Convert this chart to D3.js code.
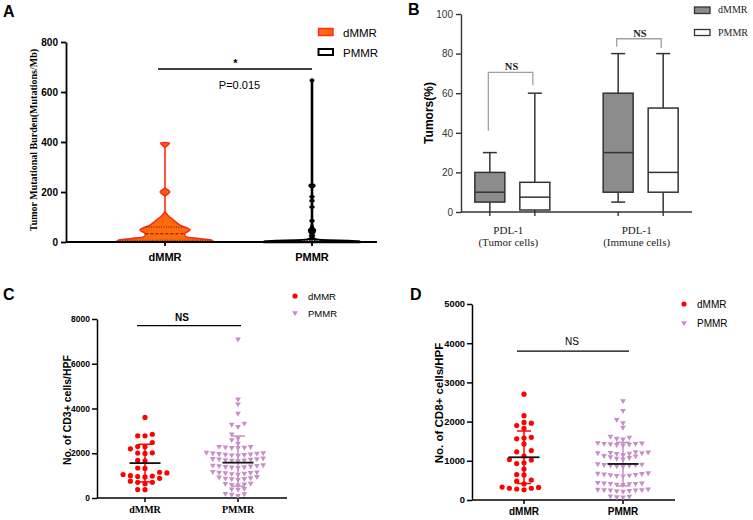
<!DOCTYPE html>
<html>
<head>
<meta charset="utf-8">
<script src="https://cdn.jsdelivr.net/npm/d3@7"></script>
<style>
  body { margin: 0; background: #fff; }
  svg { display: block; }
</style>
</head>
<body>
<div id="chart"></div>
<script>
// Four-panel figure: A TMB violins, B PDL-1 boxes, C CD3+ / D CD8+ scatter with mean ± SD
const groups = ["dMMR", "PMMR"];

// A: tumour mutational burden — violin profiles [value, relative half-width]
const tmbTicks = [0, 200, 400, 600, 800];
const tmbDmmrProfile = [[0, 0.95], [4, 1], [9, 0.94], [14, 0.7], [19, 0.47], [26, 0.41], [36, 0.42], [44, 0.5],
  [50, 0.52], [56, 0.46], [63, 0.36], [76, 0.25], [89, 0.17], [103, 0.08], [116, 0.02], [124, 0],
  [182, 0], [200, 0.1], [218, 0], [376, 0], [396, 0.09], [398, 0]];
const tmbPmmrProfile = [[0, 1], [2, 0.97], [4, 0.75], [6, 0.35], [9, 0.1], [13, 0.04], [20, 0.02], [25, 0.04],
  [30, 0.02], [40, 0.05], [48, 0.06], [56, 0.02], [80, 0], [85, 0.03], [90, 0], [135, 0], [140, 0.03], [145, 0],
  [160, 0], [165, 0.03], [170, 0], [176, 0], [181, 0.03], [186, 0], [217, 0], [225, 0.05], [233, 0],
  [640, 0], [647, 0.025], [650, 0]];
const tmbDmmrQuart = [7, 33, 60];
const tmbPmmrQuart = [1.5, 3, 5];
const tmbSig = { level: 692, star: "*", p: "P=0.015" };

// B: PDL-1 positivity — [min, q1, median, q3, max]
const pdlCats = [["PDL-1", "(Tumor cells)"], ["PDL-1", "(Immune cells)"]];
const pdlTicks = [0, 20, 40, 60, 80, 100];
const pdlDmmr = [[0, 5, 10, 20, 30], [5, 10, 30, 60, 80]];
const pdlPmmr = [[0, 1, 7.5, 15, 60], [0, 10, 20, 52.5, 80]];
const pdlBrackets = [[70.5, 41, 64], [87.5, 83.5, 82.8]]; // [top, left end, right end]

// C: CD3+ cells/HPF
const cd3Ticks = [0, 2000, 4000, 6000, 8000];
const cd3Dmmr = [3600, 2850, 2780, 2780, 2480, 2300, 2290, 2200, 2020, 1990, 2010, 1680, 1660, 1340, 1320,
  1150, 1120, 1050, 1000, 980, 960, 940, 880, 750, 700, 700, 640, 380, 370];
const cd3Pmmr = [7100, 4420, 4200, 3780, 3340, 3290, 3190, 2850, 2670, 2600, 2440,
  2300, 2290, 2270, 2260, 2250, 2240,
  2040, 2020, 2000, 1990, 1980, 1960, 1950, 1940, 1920, 1900,
  1780, 1760, 1750, 1740, 1720, 1700, 1690, 1680, 1660,
  1480, 1460, 1450, 1440, 1420, 1400, 1390, 1380, 1360,
  1180, 1160, 1150, 1130, 1120, 1100, 1080, 1060,
  950, 930, 900, 880, 860, 850, 820,
  650, 640, 620, 600, 580,
  420, 400, 380,
  200, 180, 160, 100];
const cd3Mean = [1560, 1580], cd3Lo = [720, 530], cd3Hi = [2400, 2770];
const cd3Ns = 7700;

// D: CD8+ cells/HPF
const cd8Ticks = [0, 1000, 2000, 3000, 4000, 5000];
const cd8Dmmr = [2700, 2150, 1980, 1960, 1900, 1830, 1600, 1580, 1560, 1430, 1260, 1230, 1120, 1030, 1020,
  950, 930, 790, 650, 640, 510, 480, 410, 330, 320, 300, 300, 280, 260];
const cd8Pmmr = [2530, 2280, 2050, 1970, 1850,
  1620, 1600, 1570, 1550,
  1460, 1450, 1440, 1440, 1430, 1420, 1410, 1400,
  1230, 1220, 1210, 1200, 1200, 1190, 1180, 1150, 1130, 1120, 1100, 1080, 1060, 1040,
  920, 910, 900, 900, 890, 880, 870, 860,
  690, 680, 670, 660, 650, 640, 630, 620, 610,
  440, 430, 430, 420, 420, 410, 400, 390,
  280, 270, 260, 260, 250, 250, 240, 230, 220,
  100, 90, 80, 70];
const cd8Mean = [1090, 920], cd8Lo = [420, 360], cd8Hi = [1760, 1470];
const cd8Ns = 3800;

const SANS = "'Liberation Sans', Arial, sans-serif";
const SERIF = "'Liberation Serif', 'Times New Roman', serif";
const RED = "#ff0000", LILAC = "#c68fc6";

const svg = d3.select("#chart").append("svg").attr("width", 753).attr("height", 520);

function txt(x, y, s, o = {}) {
  return svg.append("text").attr("x", x).attr("y", y)
    .attr("font-family", o.ff || SANS).attr("font-size", o.fs || 10)
    .attr("font-weight", o.fw || "normal").attr("fill", o.fill || "#000")
    .attr("text-anchor", o.anchor || "start").text(s);
}
function vtxt(x, y, s, o = {}) {
  return svg.append("text").attr("transform", `translate(${x},${y}) rotate(-90)`)
    .attr("font-family", o.ff || SANS).attr("font-size", o.fs || 10)
    .attr("font-weight", o.fw || "bold").attr("fill", o.fill || "#000")
    .attr("text-anchor", "middle").text(s);
}
function line(x1, y1, x2, y2, stroke, sw, dash) {
  return svg.append("line").attr("x1", x1).attr("y1", y1).attr("x2", x2).attr("y2", y2)
    .attr("stroke", stroke).attr("stroke-width", sw).attr("stroke-dasharray", dash || null);
}
function yAxis(scale, ticks, x, o) {
  const ax = svg.append("g").attr("transform", `translate(${x},0)`)
    .call(d3.axisLeft(scale).tickValues(ticks).tickFormat(d3.format("d"))
      .tickSize(5).tickPadding(o.pad || 3).tickSizeOuter(0));
  ax.select(".domain").attr("stroke", o.color).attr("stroke-width", o.sw);
  ax.selectAll(".tick line").attr("stroke", o.color).attr("stroke-width", o.sw);
  ax.selectAll("text").attr("font-family", SANS).attr("font-size", o.fs)
    .attr("font-weight", o.fw).attr("fill", o.color);
  return ax;
}
function xAxis(x0, x1, y, ticks, color, sw) {
  line(x0, y, x1, y, color, sw);
  ticks.forEach(t => line(t, y, t, y + 4, color, sw));
}

// ───────── Panel A ─────────
txt(3, 17, "A", { fs: 16, fw: "bold" });
const yA = d3.scaleLinear().domain([0, 800]).range([242, 42]);
const xA = d3.scalePoint().domain(groups).range([165, 312]);
const hwA = d3.scaleLinear().domain([0, 1]).range([0, 48]);
const violin = (prof, cx) => d3.area().curve(d3.curveMonotoneY)
  .y(d => yA(d[0])).x0(d => cx - hwA(d[1])).x1(d => cx + hwA(d[1]))(prof);

svg.append("path").attr("d", violin(tmbDmmrProfile, xA("dMMR")))
  .attr("fill", "#ff6a0d").attr("stroke", "#ff2a1a").attr("stroke-width", 1.6).attr("stroke-linejoin", "round");
svg.append("path").attr("d", violin(tmbPmmrProfile, xA("PMMR")))
  .attr("fill", "#000").attr("stroke", "#000").attr("stroke-width", 2.6).attr("stroke-linejoin", "round");

const quartLines = (prof, quart, cx, col, thin) => {
  const w = d3.scaleLinear().domain(prof.map(p => p[0])).range(prof.map(p => p[1]));
  quart.forEach((q, i) => {
    const hw = hwA(w(q)) * (thin ? 0.25 : 0.98);
    line(cx - hw, yA(q), cx + hw, yA(q), col, 0.9, i === 1 ? "3,2" : "1,1.5");
  });
};
quartLines(tmbDmmrProfile, tmbDmmrQuart, xA("dMMR"), "#4a1500", false);
quartLines(tmbPmmrProfile, tmbPmmrQuart, xA("PMMR"), "#fff", true);

yAxis(yA, tmbTicks, 66, { color: "#000", sw: 1.8, fs: 10, fw: "bold" });
xAxis(66, 377, yA(0), groups.map(g => xA(g)), "#000", 1.8);
groups.forEach(g => txt(xA(g), 261, g, { fs: 11, fw: "bold", anchor: "middle" }));
vtxt(37, 140, "Tumor Mutational Burden(Mutations/Mb)", { ff: SERIF, fs: 10 });

line(xA("dMMR") - 7, yA(tmbSig.level), xA("PMMR"), yA(tmbSig.level), "#000", 1.5);
txt((xA("dMMR") + xA("PMMR")) / 2 - 3, yA(tmbSig.level) - 2.5, tmbSig.star, { fs: 11, fw: "bold", anchor: "middle" });
txt((xA("dMMR") + xA("PMMR")) / 2 + 1, 89, tmbSig.p, { fs: 11, anchor: "middle" });

// legend A
svg.append("rect").attr("x", 318.5).attr("y", 28.5).attr("width", 14.5).attr("height", 7)
  .attr("fill", "#ff6a0d").attr("stroke", "#ff2a1a").attr("stroke-width", 1.4);
txt(343, 36.5, "dMMR", { fs: 11.5 });
svg.append("rect").attr("x", 318.5).attr("y", 49).attr("width", 14.5).attr("height", 6)
  .attr("fill", "#fff").attr("stroke", "#000").attr("stroke-width", 2);
txt(343, 56.5, "PMMR", { fs: 11.5 });

// ───────── Panel B ─────────
txt(408, 15, "B", { fs: 16, fw: "bold" });
const yB = d3.scaleLinear().domain([0, 100]).range([212, 14]);
const xB = d3.scalePoint().domain(d3.range(pdlCats.length)).range([461, 692]).padding(0.4);
const subB = d3.scalePoint().domain(groups).range([-22.5, 22.5]);
const BOXW = 30, CAPW = 14, GRAY = "#333";

yAxis(yB, pdlTicks, 461, { color: GRAY, sw: 1.4, fs: 10, fw: "normal" });
const boxCenters = [];
pdlCats.forEach((c, i) => groups.forEach(g => boxCenters.push(xB(i) + subB(g))));
xAxis(461, 692, yB(0), boxCenters, GRAY, 1.4);

pdlCats.forEach((c, i) => {
  [[pdlDmmr[i], "dMMR", "#8c8c8c"], [pdlPmmr[i], "PMMR", "#fff"]].forEach(([s, g, fill]) => {
    const cx = xB(i) + subB(g);
    line(cx, yB(s[0]), cx, yB(s[1]), GRAY, 1.5);
    line(cx, yB(s[3]), cx, yB(s[4]), GRAY, 1.5);
    line(cx - CAPW / 2, yB(s[4]), cx + CAPW / 2, yB(s[4]), GRAY, 1.5);
    if (s[0] > 0) line(cx - CAPW / 2, yB(s[0]), cx + CAPW / 2, yB(s[0]), GRAY, 1.5);
    svg.append("rect").attr("x", cx - BOXW / 2).attr("y", yB(s[3]))
      .attr("width", BOXW).attr("height", yB(s[1]) - yB(s[3]))
      .attr("fill", fill).attr("stroke", GRAY).attr("stroke-width", 1.5);
    line(cx - BOXW / 2, yB(s[2]), cx + BOXW / 2, yB(s[2]), GRAY, 1.5);
  });
  const [top, le, re] = pdlBrackets[i];
  const xl = xB(i) + subB("dMMR") - 1.5, xr = xB(i) + subB("PMMR") - 2;
  svg.append("path").attr("d", `M${xl},${yB(le)}V${yB(top)}H${xr}V${yB(re)}`)
    .attr("fill", "none").attr("stroke", "#a0a0a0").attr("stroke-width", 1.3);
  txt((xl + xr) / 2 + 1, yB(top) - 2, "NS", { ff: SERIF, fs: 10.5, fw: "bold", anchor: "middle", fill: "#222" });
  txt(xB(i) - 4, 234, c[0], { ff: SERIF, fs: 11, anchor: "middle", fill: "#222" });
  txt(xB(i) - 4, 246, c[1], { ff: SERIF, fs: 11, anchor: "middle", fill: "#222" });
});
vtxt(433, 113, "Tumors(%)", { fs: 12 });

// legend B
svg.append("rect").attr("x", 694.5).attr("y", 7).attr("width", 15.5).attr("height", 6.5)
  .attr("fill", "#8c8c8c").attr("stroke", GRAY).attr("stroke-width", 1.3);
txt(718, 13, "dMMR", { ff: SERIF, fs: 10, fill: "#222" });
svg.append("rect").attr("x", 694.5).attr("y", 29.5).attr("width", 15.5).attr("height", 6)
  .attr("fill", "#fff").attr("stroke", GRAY).attr("stroke-width", 1.3);
txt(718, 35.5, "PMMR", { ff: SERIF, fs: 10, fill: "#222" });

// ───────── scatter helpers (C, D) ─────────
function swarm(vals, y, cx, step, minDy) {
  const placed = [];
  vals.map(v => ({ v, py: y(v) })).sort((a, b) => a.v - b.v).forEach(p => {
    for (let k = 0; k < 60; k++) {
      const off = (k === 0 ? 0 : (k % 2 ? -1 : 1) * Math.ceil(k / 2)) * step;
      const hit = placed.some(q => Math.abs(q.px - (cx + off)) < step * 0.9 && Math.abs(q.py - p.py) < minDy);
      if (!hit) { p.px = cx + off; break; }
    }
    placed.push(p);
  });
  return placed;
}
const tri = d3.symbol().type(d3.symbolTriangle).size(14);
function dot(x, y) { svg.append("circle").attr("cx", x).attr("cy", y).attr("r", 2.6).attr("fill", RED); }
function triDown(x, y) {
  svg.append("path").attr("d", tri()).attr("transform", `translate(${x},${y}) rotate(180)`).attr("fill", LILAC);
}
function meanSd(cx, y, mean, lo, hi, col) {
  line(cx, y(lo), cx, y(hi), col, 1.5);
  line(cx - 7, y(lo), cx + 7, y(lo), col, 1.5);
  line(cx - 7, y(hi), cx + 7, y(hi), col, 1.5);
  line(cx - 15.5, y(mean), cx + 15.5, y(mean), "#111", 1.8);
}
function scatterPanel(o) {
  const { y, x, dm, pm, mean, lo, hi } = o;
  swarm(dm, y, x("dMMR"), 7.3, 5.5).forEach(p => dot(p.px, p.py));
  swarm(pm, y, x("PMMR"), 6.3, 4.2).forEach(p => triDown(p.px, p.py));
  meanSd(x("dMMR"), y, mean[0], lo[0], hi[0], RED);
  meanSd(x("PMMR"), y, mean[1], lo[1], hi[1], LILAC);
}

// ───────── Panel C ─────────
txt(3, 300, "C", { fs: 16, fw: "bold" });
const yC = d3.scaleLinear().domain([0, 8000]).range([498, 319]);
const xC = d3.scalePoint().domain(groups).range([145, 238]);
yAxis(yC, cd3Ticks, 97, { color: "#000", sw: 1.5, fs: 8.5, fw: "bold", pad: 2 });
xAxis(97, 287, yC(0), groups.map(g => xC(g)), "#000", 1.5);
scatterPanel({ y: yC, x: xC, dm: cd3Dmmr, pm: cd3Pmmr, mean: cd3Mean, lo: cd3Lo, hi: cd3Hi });
groups.forEach(g => txt(xC(g), 513, g, { ff: SERIF, fs: 10, fw: "bold", anchor: "middle" }));
vtxt(71, 410, "No. of CD3+ cells/HPF", { fs: 10.5 });
line(137, yC(cd3Ns), 241, yC(cd3Ns), "#000", 1.3);
txt(182, yC(cd3Ns) - 5, "NS", { fs: 10, fw: "bold", anchor: "middle" });
dot(295, 296); txt(308, 300, "dMMR", { fs: 9.5 });
triDown(295, 313); txt(308, 317, "PMMR", { fs: 9.5 });

// ───────── Panel D ─────────
txt(410, 300, "D", { fs: 16, fw: "bold" });
const yD = d3.scaleLinear().domain([0, 5000]).range([500, 304]);
const xD = d3.scalePoint().domain(groups).range([524, 623]);
yAxis(yD, cd8Ticks, 472, { color: "#000", sw: 1.5, fs: 9.3, fw: "bold", pad: 2 });
xAxis(472, 675, yD(0), groups.map(g => xD(g)), "#000", 1.5);
scatterPanel({ y: yD, x: xD, dm: cd8Dmmr, pm: cd8Pmmr, mean: cd8Mean, lo: cd8Lo, hi: cd8Hi });
groups.forEach(g => txt(xD(g), 515, g, { fs: 10, fw: "bold", anchor: "middle" }));
vtxt(443, 403, "No. of CD8+ cells/HPF", { fs: 11.5 });
line(517, yD(cd8Ns), 629, yD(cd8Ns), "#000", 1.3);
txt(572, yD(cd8Ns) - 6, "NS", { fs: 10, anchor: "middle" });
dot(684, 304); txt(697, 308, "dMMR", { fs: 10 });
triDown(684, 323); txt(697, 327, "PMMR", { fs: 10 });
</script>
</body>
</html>
